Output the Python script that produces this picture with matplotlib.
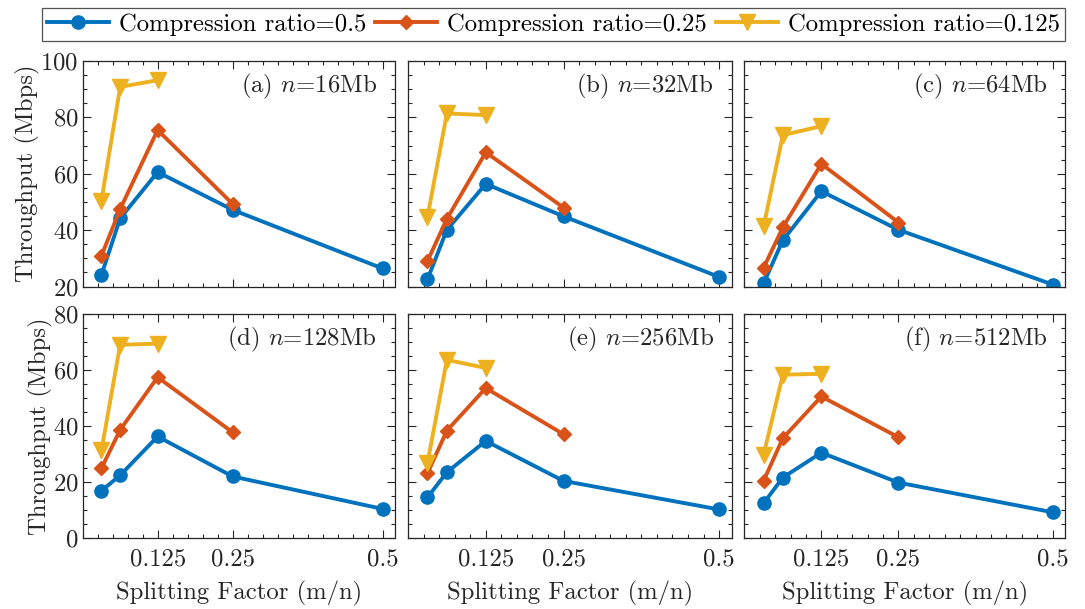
import matplotlib
matplotlib.use("Agg")
import matplotlib.pyplot as plt
from matplotlib.ticker import MultipleLocator, FixedLocator, FixedFormatter

plt.rcParams['font.family'] = 'cmr10'
plt.rcParams['mathtext.fontset'] = 'cm'
plt.rcParams['axes.formatter.use_mathtext'] = True

# ---- data ----
split_factors = [0.03125, 0.0625, 0.125, 0.25, 0.5]
panel_titles = ["(a) $n$=16Mb", "(b) $n$=32Mb", "(c) $n$=64Mb",
                "(d) $n$=128Mb", "(e) $n$=256Mb", "(f) $n$=512Mb"]
series_labels = ["Compression ratio=0.5", "Compression ratio=0.25", "Compression ratio=0.125"]

ratio_05 = [
    [24.1, 44.2, 60.6, 47.2, 26.4],
    [22.5, 40.1, 56.4, 44.9, 23.4],
    [21.1, 36.4, 53.8, 40.1, 20.7],
    [16.8, 22.3, 36.2, 21.9, 10.3],
    [14.4, 23.4, 34.6, 20.3, 10.1],
    [12.3, 21.5, 30.4, 19.7, 9.1],
]
ratio_025 = [
    [30.9, 47.5, 75.5, 49.3],
    [29.0, 44.0, 67.6, 48.0],
    [26.6, 41.0, 63.5, 42.7],
    [24.8, 38.6, 57.4, 37.7],
    [23.0, 38.3, 53.5, 37.0],
    [20.3, 35.6, 50.5, 35.9],
]
ratio_0125 = [
    [50.5, 90.8, 93.2],
    [44.6, 81.4, 80.8],
    [41.3, 73.7, 76.9],
    [31.2, 69.0, 69.4],
    [26.6, 63.6, 60.7],
    [29.6, 58.3, 58.6],
]
xtick_vals = [0.125, 0.25, 0.5]
xtick_labels = ["0.125", "0.25", "0.5"]

colors = ["#0072BD", "#D95319", "#EDB120"]
W, H = 1085, 609
fig = plt.figure(figsize=(W / 100, H / 100), dpi=100)

cols_px = [(82.7, 394.5), (408.0, 731.5), (744.3, 1065.0)]
rows_px = [(61.0, 286.5), (314.0, 537.7)]

FS = 17.8
axc = "#262626"
handles = None
for i in range(6):
    r, c = divmod(i, 3)
    x0, x1 = cols_px[c]
    y0, y1 = rows_px[r]
    ax = fig.add_axes([x0 / W, 1 - y1 / H, (x1 - x0) / W, (y1 - y0) / H])
    l1, = ax.plot(split_factors, ratio_05[i], '-o', color=colors[0], lw=2.8, ms=9.5,
                  label=series_labels[0])
    l2, = ax.plot(split_factors[:4], ratio_025[i], '-D', color=colors[1], lw=2.8, ms=7,
                  label=series_labels[1])
    l3, = ax.plot(split_factors[:3], ratio_0125[i], '-v', color=colors[2], lw=2.8, ms=11,
                  label=series_labels[2])
    handles = [l1, l2, l3]
    ax.set_xlim(0, 0.52)
    if r == 0:
        ax.set_ylim(20, 100)
    else:
        ax.set_ylim(0, 80)
    ax.yaxis.set_major_locator(MultipleLocator(20))
    ax.yaxis.set_minor_locator(MultipleLocator(5))
    ax.xaxis.set_major_locator(FixedLocator(xtick_vals))
    ax.xaxis.set_major_formatter(FixedFormatter(xtick_labels))
    ax.xaxis.set_minor_locator(MultipleLocator(0.025))
    ax.tick_params(which='both', direction='in', top=True, right=True, colors=axc,
                   labelcolor='#262626', labelsize=FS, width=0.8)
    ax.tick_params(which='major', length=5.5)
    ax.tick_params(which='minor', length=3.2)
    ax.tick_params(axis='x', which='major', pad=8)
    ax.tick_params(axis='y', which='major', pad=3)
    for s in ax.spines.values():
        s.set_color(axc)
        s.set_linewidth(0.9)
    if r == 0:
        ax.tick_params(labelbottom=False)
    else:
        ax.set_xlabel("Splitting Factor (m/n)", fontsize=FS, color='#262626', labelpad=7)
    if c != 0:
        ax.tick_params(labelleft=False)
    else:
        ax.set_ylabel("Throughput (Mbps)", fontsize=FS, color='#262626', labelpad=0)
    ax.text(0.945, 0.885, panel_titles[i], transform=ax.transAxes, ha='right', va='center',
            fontsize=FS, color='#262626')

leg = fig.legend(handles, series_labels, loc='lower left',
                 bbox_to_anchor=(42 / W, 1 - 40.7 / H, (1065 - 42) / W, 35.4 / H),
                 mode='expand', ncol=3, fontsize=FS, handlelength=2.5, handletextpad=0.4,
                 borderaxespad=0, frameon=True, fancybox=False, borderpad=0.2,
                 columnspacing=0.8)
leg.get_frame().set_edgecolor(axc)
leg.get_frame().set_linewidth(0.9)

fig.savefig("out.png", dpi=100)
